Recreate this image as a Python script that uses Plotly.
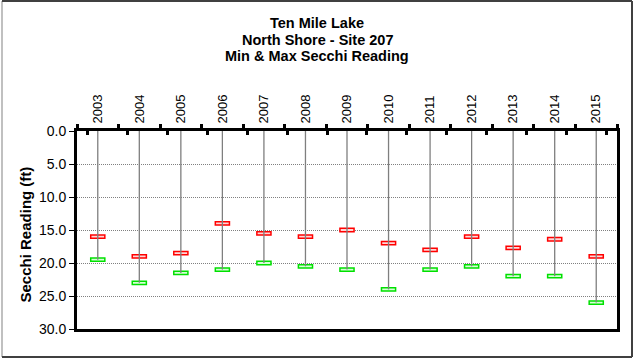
import plotly.graph_objects as go

years = ["2003", "2004", "2005", "2006", "2007", "2008", "2009",
         "2010", "2011", "2012", "2013", "2014", "2015"]
min_reading = [16.0, 19.0, 18.5, 14.0, 15.5, 16.0, 15.0, 17.0, 18.0, 16.0, 17.7, 16.4, 19.0]
max_reading = [19.5, 23.0, 21.5, 21.0, 20.0, 20.5, 21.0, 24.0, 21.0, 20.5, 22.0, 22.0, 26.0]
y_ticks = [0, 5, 10, 15, 20, 25, 30]
title_lines = ["Ten Mile Lake", "North Shore - Site 207", "Min &amp; Max Secchi Reading"]

FONT = "Liberation Sans, Arial, sans-serif"
MARK_H = 0.5

# plot-area geometry in pixels (for paper-coordinate decorations)
PL, PR, PT, PB = 77, 617, 131, 329
PW, PH = PR - PL, PB - PT


def px_x(px):
    return (px - PL) / PW


def px_y(py):
    return (PB - py) / PH


fig = go.Figure()

# vertical drop lines from surface to max reading
lx, ly = [], []
for yr, mx in zip(years, max_reading):
    lx += [yr, yr, None]
    ly += [0, mx, None]
fig.add_trace(go.Scatter(x=lx, y=ly, mode="lines",
                         line=dict(color="#7f7f7f", width=1.3),
                         hoverinfo="skip", showlegend=False))

# min (red) and max (green) markers as small rectangles
fig.add_trace(go.Bar(x=years, y=[MARK_H] * len(years),
                     base=[v - MARK_H / 2 for v in min_reading],
                     width=0.34, marker=dict(color="#ffd6d6", line=dict(color="#ff0000", width=1.5)),
                     showlegend=False, name="Min"))
fig.add_trace(go.Bar(x=years, y=[MARK_H] * len(years),
                     base=[v - MARK_H / 2 for v in max_reading],
                     width=0.34, marker=dict(color="#d6ffd6", line=dict(color="#00e000", width=1.5)),
                     showlegend=False, name="Max"))

# invisible trace to carry the inside-ticks axis
fig.add_trace(go.Scatter(x=years, y=[None] * len(years), xaxis="x2", mode="markers",
                         showlegend=False, hoverinfo="skip"))

fig.update_layout(
    width=634, height=358,
    margin=dict(l=PL, r=634 - PR, t=PT, b=358 - PB),
    paper_bgcolor="white", plot_bgcolor="white",
    barmode="overlay",
    font=dict(family=FONT, color="black"),
    xaxis=dict(type="category", categoryorder="array", categoryarray=years,
               side="top", tickangle=-90, tickson="boundaries",
               ticks="outside", ticklen=4, tickwidth=2.5, tickcolor="black",
               showline=True, linewidth=3, linecolor="black", mirror=True,
               showgrid=False, tickfont=dict(size=13, family=FONT), ticklabelstandoff=2),
    xaxis2=dict(type="category", categoryorder="array", categoryarray=years,
                overlaying="x", side="top", tickson="boundaries",
                ticks="inside", ticklen=4, tickwidth=2.5, tickcolor="black",
                showticklabels=False, showline=False, showgrid=False),
    yaxis=dict(range=[30, 0], tickvals=y_ticks, tickformat=".1f",
               ticks="outside", ticklen=5, tickcolor="black", tickwidth=1,
               showline=True, linewidth=3, linecolor="black", mirror=True,
               showgrid=True, gridcolor="#808080", griddash="1px,1px", gridwidth=1,
               zeroline=False, tickfont=dict(size=14, family=FONT)),
)

# chart title (three lines), centred on the whole chart
for line, cy in zip(title_lines, [23, 39.5, 56]):
    fig.add_annotation(x=px_x(317), y=px_y(cy), xref="paper", yref="paper",
                       xanchor="center", yanchor="middle", text="<b>" + line + "</b>",
                       showarrow=False, font=dict(size=14.5, family=FONT, color="black"))

# y axis title
fig.add_annotation(x=px_x(24.5), y=px_y(235), xref="paper", yref="paper",
                   xanchor="center", yanchor="middle", textangle=-90,
                   text="<b>Secchi Reading (ft)</b>", showarrow=False,
                   font=dict(size=15, family=FONT, color="black"))

# outer chart border
x0, x1 = px_x(2), px_x(632)
y0, y1 = px_y(357), px_y(1)
fig.add_shape(type="line", xref="paper", yref="paper", x0=x0, x1=x0, y0=y0, y1=y1,
              line=dict(color="#c0c0c0", width=2))
fig.add_shape(type="line", xref="paper", yref="paper", x0=x0, x1=x1, y0=y1, y1=y1,
              line=dict(color="#404040", width=2))
fig.add_shape(type="line", xref="paper", yref="paper", x0=x1, x1=x1, y0=y0, y1=y1,
              line=dict(color="#404040", width=2))
fig.add_shape(type="line", xref="paper", yref="paper", x0=x0, x1=x1, y0=y0, y1=y0,
              line=dict(color="#404040", width=2))

fig.write_html("out.html", config={"displayModeBar": False},
               post_script="document.body.style.margin='0';")
